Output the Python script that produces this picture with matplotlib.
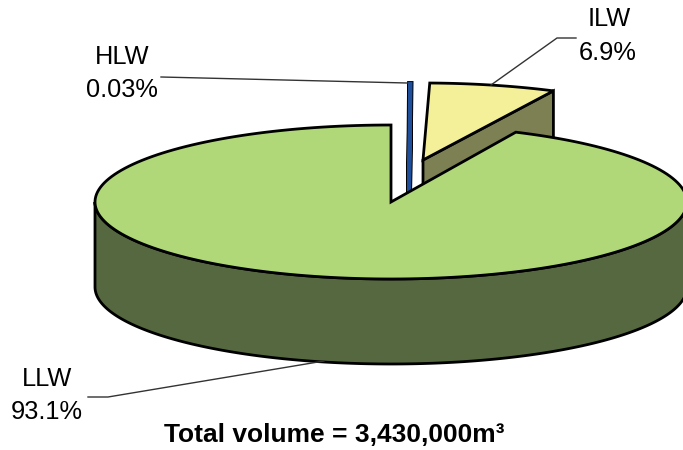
import numpy as np
from matplotlib import pyplot as plt
from matplotlib.patches import Polygon

labels = ["HLW", "ILW", "LLW"]
shares = [0.03, 6.9, 93.1]
value_text = ["0.03%", "6.9%", "93.1%"]
total_text = "Total volume = 3,430,000m³"

plt.rcParams['font.family'] = ['Liberation Sans', 'DejaVu Sans']

# ellipse of the pie top, in pixels
CX, CY = 391, 202
RX, RY = 296, 77
DEPTH = 85
START = 90
ILW_TURN = -1.2  # the pulled out ILW slice sits slightly turned
EDGE = 'black'
LEADER = '#333333'


def arc(start, end, dx=0, dy=0, n=200):
    t = np.radians(np.linspace(start, end, n))
    return np.column_stack([CX + dx + RX * np.cos(t), CY + dy - RY * np.sin(t)])


def wedge(ax, start, end, dx, dy, color, lw=2, zorder=2):
    pts = np.vstack([[CX + dx, CY + dy], arc(start, end, dx, dy)])
    ax.add_patch(Polygon(pts, closed=True, fc=color, ec=EDGE, lw=lw, zorder=zorder, joinstyle='miter'))


def side(ax, pts, color, lw=2, zorder=2):
    low = pts[::-1] + [0, DEPTH]
    ax.add_patch(Polygon(np.vstack([pts, low]), closed=True, fc=color, ec=EDGE, lw=lw, zorder=zorder))


fig = plt.figure(figsize=(6.83, 4.5), dpi=100)
ax = fig.add_axes([0, 0, 1, 1])
ax.set_xlim(0, 683)
ax.set_ylim(450, 0)
ax.axis('off')

sweeps = [360 * s / sum(shares) for s in shares]
hlw_end = START - sweeps[0]
ilw_end = hlw_end - sweeps[1]

# pulled out slices, behind the big one
ilw_dx, ilw_dy = 32, -42
apex = np.array([[CX + ilw_dx, CY + ilw_dy]])
side(ax, np.vstack([apex, arc(ilw_end + ILW_TURN, ilw_end + ILW_TURN, ilw_dx, ilw_dy, 1)]), '#7C8052', zorder=1)
wedge(ax, hlw_end + ILW_TURN, ilw_end + ILW_TURN, ilw_dx, ilw_dy, '#F4F09A', zorder=2)

# the HLW sliver is drawn from its share; the thick stroke keeps it visible
hlw_dx, hlw_dy = 19, -41
hlw = np.vstack([[CX + hlw_dx - 1, CY + hlw_dy + 40], arc(START, hlw_end, hlw_dx, hlw_dy, 5)])
ax.add_patch(Polygon(hlw, closed=True, fc='#1F4E9A', ec=EDGE, lw=4.2, zorder=1.5))
ax.add_patch(Polygon(hlw, closed=True, fc='#1F4E9A', ec='#1F4E9A', lw=2.8, zorder=1.6))

# big slice: rim first, then the top face over it
side(ax, arc(180, 360), '#56683F', zorder=3)
wedge(ax, START, 360 + ilw_end, 0, 0, '#B0D878', zorder=4)

# labels with leader lines
fs = 18.3
ax.text(122, 57, labels[0], ha='center', va='center', fontsize=fs)
ax.text(122, 90, value_text[0], ha='center', va='center', fontsize=fs)
ax.plot([161, 407], [77, 83], color=LEADER, lw=1, zorder=5)

ax.text(609, 19, labels[1], ha='center', va='center', fontsize=fs)
ax.text(608, 53, value_text[1], ha='center', va='center', fontsize=fs)
ax.plot([491, 557, 576], [85, 38, 38], color=LEADER, lw=1, zorder=5)

ax.text(47, 379, labels[2], ha='center', va='center', fontsize=fs)
ax.text(47, 412, value_text[2], ha='center', va='center', fontsize=fs)
ax.plot([88, 108, 324], [397, 397, 361], color=LEADER, lw=1, zorder=5)

ax.text(334, 435, total_text, ha='center', va='center', fontsize=19, fontweight='bold')

fig.savefig('out.png', dpi=100)
